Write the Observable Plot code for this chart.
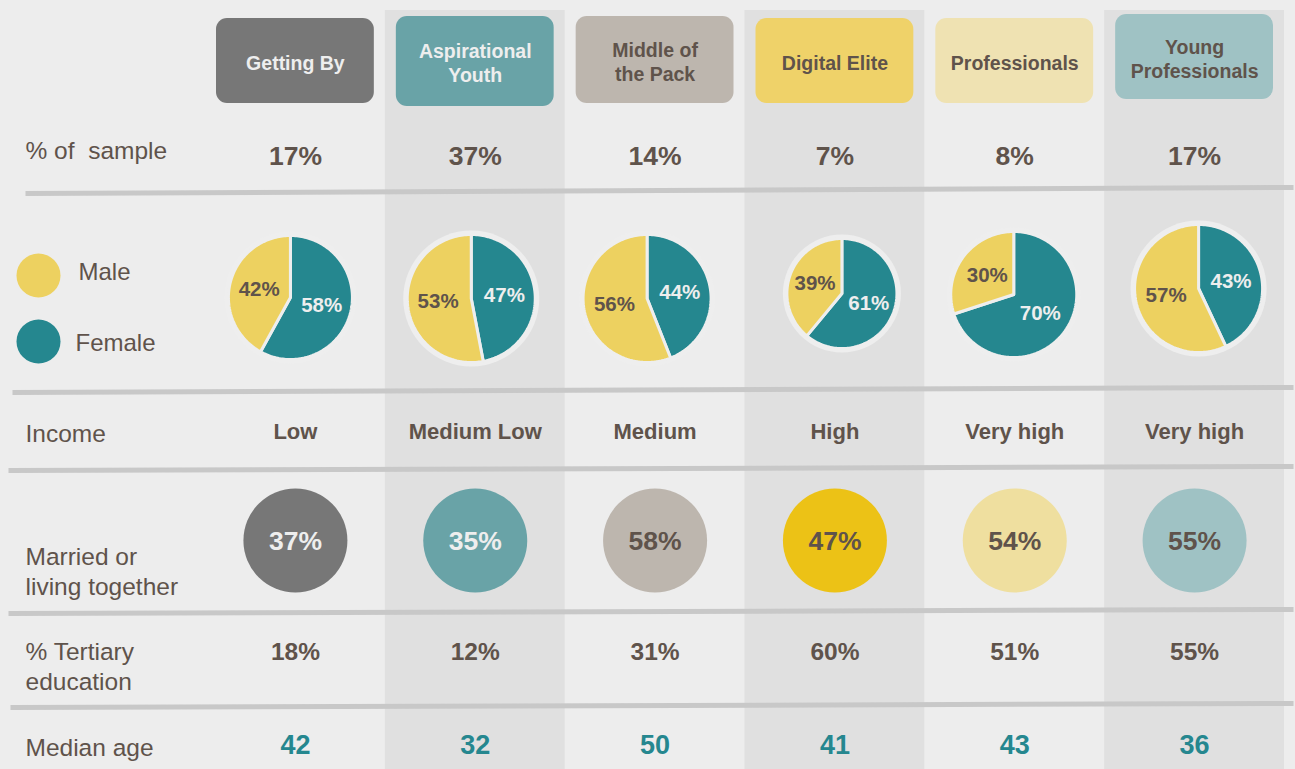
<!DOCTYPE html>
<html><head><meta charset="utf-8">
<script src="https://cdn.jsdelivr.net/npm/d3@7"></script>
<script src="https://cdn.jsdelivr.net/npm/@observablehq/plot@0.6"></script>
<style>html,body{margin:0;padding:0;background:#ededed;} #chart svg{display:block;background:#ededed}</style>
</head><body><div id="chart"></div>
<script>
// ---------- DATA ----------
const segments = ["Getting By", "Aspirational Youth", "Middle of the Pack", "Digital Elite", "Professionals", "Young Professionals"];
const headerLabels = ["Getting By", "Aspirational\nYouth", "Middle of\nthe Pack", "Digital Elite", "Professionals", "Young\nProfessionals"];
const sampleShare = [17, 37, 14, 7, 8, 17];
const malePct = [42, 53, 56, 39, 30, 57];
const femalePct = [58, 47, 44, 61, 70, 43];
const incomeLevels = ["Low", "Medium Low", "Medium", "High", "Very high", "Very high"];
const marriedPct = [37, 35, 58, 47, 54, 55];
const tertiaryPct = [18, 12, 31, 60, 51, 55];
const medianAge = [42, 32, 50, 41, 43, 36];
const rowLabels = ["% of  sample", "Income", "Married or\nliving together", "% Tertiary\neducation", "Median age"];
const genderLegend = ["Male", "Female"];

// ---------- STYLE / LAYOUT ----------
const W = 1295, H = 769;
const FONT = "'Liberation Sans', Arial, Helvetica, sans-serif";
const BROWN = "#5f534b";
const LIGHT = "#eeeeee";
const segFill = ["#777777", "#69a3a7", "#bdb6ae", "#efd269", "#efe2b2", "#9fc2c4"];
const segText = [LIGHT, LIGHT, BROWN, BROWN, BROWN, BROWN];
const marriedFill = ["#777777", "#69a3a7", "#bdb6ae", "#ecc216", "#efdf9f", "#9fc2c4"];
const marriedText = [LIGHT, LIGHT, BROWN, BROWN, BROWN, BROWN];
const MALE_COLOR = "#edd160", FEMALE_COLOR = "#25878f", AGE_COLOR = "#25878f";
const SHADE = "#e0e0e0";
const ROW = {header: 61, sample: 156, income: 431, married: 540, tertiary: 652, age: 745};
const HEADER_Y = [[18, 103], [16, 106], [16, 103], [18, 103], [18, 103], [14, 99]];
const LABEL_Y = [149, 432, 570, 665, 746];
const LEGEND_Y = [275, 341];
const PIE_R = [62, 64, 64, 55, 63, 64];
const PIE_DX = [-5, -4, -8, 7, -1, 4];
const PIE_CY = [297, 298, 298, 293, 294, 288];
const SEP = [
  {x1: 25, y1: 193, y2: 187}, {x1: 12, y1: 392, y2: 387}, {x1: 8, y1: 470, y2: 466},
  {x1: 8, y1: 613, y2: 609}, {x1: 10, y1: 707, y2: 703}
];

const col = Plot.scale({x: {type: "band", domain: segments, range: [205, 1284], padding: 0}});
const bw = col.bandwidth;
const left = s => col.apply(s);
const cx = s => col.apply(s) + bw / 2;

const segRows = segments.map((s, i) => ({
  s, i, header: headerLabels[i], sample: sampleShare[i] + "%", male: malePct[i], female: femalePct[i],
  income: incomeLevels[i], married: marriedPct[i] + "%", tertiary: tertiaryPct[i] + "%", age: String(medianAge[i])
}));

// pie polygons
const slicePts = [];
const sliceLabels = [];
segRows.forEach(d => {
  const R = PIE_R[d.i], x0 = cx(d.s) + PIE_DX[d.i], y0 = PIE_CY[d.i];
  const parts = [
    {key: "F", v: d.female, fill: FEMALE_COLOR, tfill: LIGHT},
    {key: "M", v: d.male, fill: MALE_COLOR, tfill: BROWN}
  ];
  let a0 = 0;
  parts.forEach(p => {
    const a1 = a0 + p.v / 100 * 2 * Math.PI;
    const id = d.s + p.key;
    slicePts.push({id, x: x0, y: y0, fill: p.fill});
    const n = Math.max(4, Math.ceil((a1 - a0) / (Math.PI / 120)));
    for (let k = 0; k <= n; k++) {
      const a = a0 + (a1 - a0) * k / n;
      slicePts.push({id, x: x0 + R * Math.sin(a), y: y0 - R * Math.cos(a), fill: p.fill});
    }
    const am = (a0 + a1) / 2;
    sliceLabels.push({x: x0 + 0.52 * R * Math.sin(am), y: y0 - 0.52 * R * Math.cos(am), text: p.v + "%", fill: p.tfill});
    a0 = a1;
  });
});

const chart = Plot.plot({
  width: W, height: H,
  marginTop: 0, marginRight: 0, marginBottom: 0, marginLeft: 0,
  x: {domain: [0, W], axis: null},
  y: {domain: [0, H], reverse: true, axis: null},
  color: {type: "identity"},
  r: {type: "identity"},
  style: {background: "#ededed", fontFamily: FONT},
  marks: [
    // shaded columns
    Plot.rect(segRows.filter(d => d.i % 2 === 1), {
      x1: d => left(d.s), x2: d => left(d.s) + bw, y1: 10, y2: H, fill: SHADE
    }),
    // separators
    Plot.link(SEP, {x1: "x1", y1: "y1", x2: W - 2, y2: "y2", stroke: "#c8c8c8", strokeWidth: 5}),
    // header boxes
    Plot.rect(segRows, {
      x1: d => left(d.s) + 11, x2: d => left(d.s) + bw - 11,
      y1: d => HEADER_Y[d.i][0], y2: d => HEADER_Y[d.i][1], fill: d => segFill[d.i], rx: 11
    }),
    Plot.text(segRows, {
      x: d => cx(d.s), y: d => (HEADER_Y[d.i][0] + HEADER_Y[d.i][1]) / 2 + 1, text: "header", fill: d => segText[d.i],
      fontSize: 19.5, fontWeight: "bold", lineHeight: 1.23
    }),
    // row labels
    Plot.text(rowLabels, {
      x: 25, y: (d, i) => LABEL_Y[i], text: d => d, textAnchor: "start",
      fill: BROWN, fontSize: 24.5, lineHeight: 1.2
    }),
    // % of sample
    Plot.text(segRows, {x: d => cx(d.s), y: ROW.sample, text: "sample", fill: BROWN, fontSize: 26.5, fontWeight: "bold"}),
    // legend
    Plot.dot(genderLegend, {x: 38, y: (d, i) => LEGEND_Y[i], r: 22, fill: (d, i) => i === 0 ? MALE_COLOR : FEMALE_COLOR}),
    Plot.text(genderLegend, {x: (d, i) => i === 0 ? 78 : 75, y: (d, i) => LEGEND_Y[i] - 3 + i * 5, text: d => d, textAnchor: "start", fill: BROWN, fontSize: 24}),
    // pie rings
    Plot.dot(segRows, {x: d => cx(d.s) + PIE_DX[d.i], y: d => PIE_CY[d.i], r: d => PIE_R[d.i] + 4, fill: LIGHT}),
    // pies
    Plot.line(slicePts, {x: "x", y: "y", z: "id", fill: "fill", stroke: LIGHT, strokeWidth: 3, strokeLinejoin: "round", curve: "linear-closed"}),
    Plot.text(sliceLabels, {x: "x", y: "y", text: "text", fill: "fill", fontSize: 20.5, fontWeight: "bold"}),
    // income
    Plot.text(segRows, {x: d => cx(d.s), y: ROW.income, text: "income", fill: BROWN, fontSize: 22, fontWeight: "bold"}),
    // married
    Plot.dot(segRows, {x: d => cx(d.s), y: ROW.married, r: 52, fill: d => marriedFill[d.i]}),
    Plot.text(segRows, {x: d => cx(d.s), y: ROW.married + 1, text: "married", fill: d => marriedText[d.i], fontSize: 26.5, fontWeight: "bold"}),
    // tertiary
    Plot.text(segRows, {x: d => cx(d.s), y: ROW.tertiary, text: "tertiary", fill: BROWN, fontSize: 24.5, fontWeight: "bold"}),
    // median age
    Plot.text(segRows, {x: d => cx(d.s), y: ROW.age, text: "age", fill: AGE_COLOR, fontSize: 27, fontWeight: "bold"})
  ]
});
document.getElementById("chart").appendChild(chart);
</script>
</body></html>
